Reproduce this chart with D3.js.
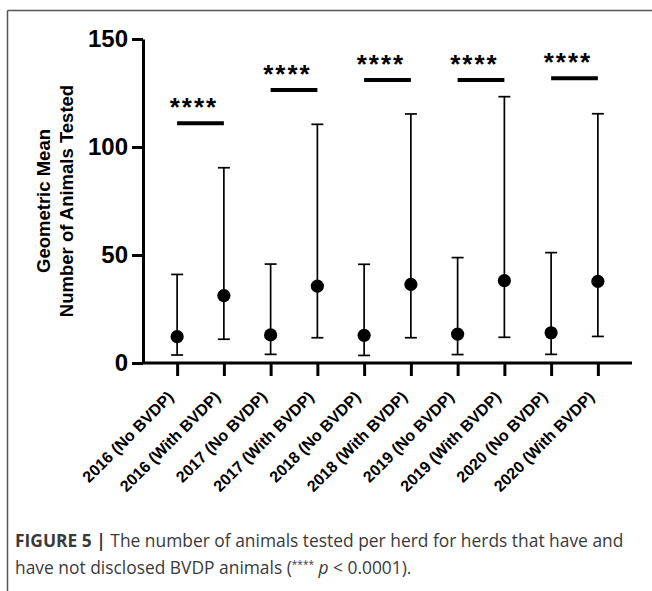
<!DOCTYPE html>
<html><head><meta charset="utf-8">
<script src="https://cdn.jsdelivr.net/npm/d3@7"></script>
<style>
html,body{margin:0;padding:0;background:#fff;}
svg{display:block;font-family:"Liberation Sans",Arial,Helvetica,sans-serif;}
</style></head>
<body>
<svg id="chart" width="652" height="591"></svg>
<script>
const categories = ["2016 (No BVDP)","2016 (With BVDP)","2017 (No BVDP)","2017 (With BVDP)","2018 (No BVDP)","2018 (With BVDP)","2019 (No BVDP)","2019 (With BVDP)","2020 (No BVDP)","2020 (With BVDP)"];
const geoMean = [12.2, 31.2, 13.0, 35.6, 12.8, 36.4, 13.4, 38.1, 14.0, 37.8];
const upper   = [41.0, 90.4, 45.8, 110.5, 45.7, 115.3, 48.8, 123.3, 51.1, 115.4];
const lower   = [3.7, 11.0, 4.0, 11.7, 3.5, 11.7, 3.9, 11.9, 4.0, 12.3];
const yTicks = [0, 50, 100, 150];
const sigPairs = [[0,1],[2,3],[4,5],[6,7],[8,9]];
const sigLevel = [111, 126.4, 131, 131, 131.8];
const sigLabel = "****";
const yTitle = ["Geometric Mean", "Number of Animals Tested"];

const svg = d3.select("#chart");

// frame lines (open box)
svg.append("line").attr("x1",7.5).attr("y1",10.5).attr("x2",652).attr("y2",10.5).attr("stroke","#555").attr("stroke-width",1.5);
svg.append("line").attr("x1",7.5).attr("y1",10.5).attr("x2",7.5).attr("y2",591).attr("stroke","#555").attr("stroke-width",1.5);

const x = d3.scalePoint().domain(categories).range([143, 632]).padding(0.73);
const y = d3.scaleLinear().domain([0,150]).range([363, 39]);

// y axis
const gy = svg.append("g").attr("transform","translate(143,0)")
  .call(d3.axisLeft(y).tickValues(yTicks).tickSize(11).tickPadding(4).tickSizeOuter(0));
gy.select(".domain").attr("stroke","#000").attr("stroke-width",3);
gy.selectAll(".tick line").attr("stroke","#000").attr("stroke-width",3);
gy.selectAll(".tick text").attr("font-size",24).attr("font-weight","bold").attr("fill","#000")
  .attr("font-family","'Liberation Sans',Arial,sans-serif");

// x axis
const gx = svg.append("g").attr("transform","translate(0,363)")
  .call(d3.axisBottom(x).tickSize(13).tickSizeOuter(0));
gx.select(".domain").attr("stroke","#000").attr("stroke-width",3).attr("d","M143,0H632");
gx.selectAll(".tick line").attr("stroke","#000").attr("stroke-width",3);
gx.selectAll(".tick text")
  .attr("font-size",16).attr("font-weight","bold").attr("fill","#000")
  .attr("font-family","'Liberation Sans',Arial,sans-serif")
  .attr("text-anchor","end")
  .attr("y",0).attr("dy","0.35em")
  .attr("transform","translate(-7,31) rotate(-45)");

// y title
const yt = svg.append("text")
  .attr("transform",`translate(0,${(y(0)+y(150))/2}) rotate(-90)`)
  .attr("text-anchor","middle").attr("font-size",18.5).attr("font-weight","bold").attr("fill","#000");
yt.append("tspan").attr("x",0).attr("y",50).text(yTitle[0]);
yt.append("tspan").attr("x",0).attr("y",73).text(yTitle[1]);

// error bars
const capW = 6;
const eb = svg.append("g").attr("stroke","#000").attr("stroke-width",1.7);
categories.forEach((c,i)=>{
  const cx = x(c);
  eb.append("line").attr("x1",cx).attr("x2",cx).attr("y1",y(lower[i])).attr("y2",y(upper[i]));
  eb.append("line").attr("x1",cx-capW).attr("x2",cx+capW).attr("y1",y(upper[i])).attr("y2",y(upper[i]));
  eb.append("line").attr("x1",cx-capW).attr("x2",cx+capW).attr("y1",y(lower[i])).attr("y2",y(lower[i]));
});
svg.append("g").selectAll("circle").data(categories).join("circle")
  .attr("cx",d=>x(d)).attr("cy",(d,i)=>y(geoMean[i])).attr("r",6.6).attr("fill","#000");

// significance
sigPairs.forEach((p,k)=>{
  const x1 = x(categories[p[0]]), x2 = x(categories[p[1]]);
  svg.append("line").attr("x1",x1).attr("x2",x2).attr("y1",y(sigLevel[k])).attr("y2",y(sigLevel[k]))
    .attr("stroke","#000").attr("stroke-width",4);
  svg.append("text").attr("x",(x1+x2)/2 - 6.5).attr("y",y(sigLevel[k]) - 7)
    .attr("text-anchor","middle").attr("font-size",26).attr("font-weight","bold")
    .attr("letter-spacing",2).attr("fill","#000").text(sigLabel);
});

// caption
const capFont = "'Open Sans','Liberation Sans',Arial,sans-serif";
const cap = svg.append("text").attr("x",15).attr("y",547).attr("font-size",17.4).attr("fill","#3a3a3a").attr("font-family",capFont);
cap.append("tspan").attr("font-weight","bold").text("FIGURE 5 | ");
cap.append("tspan").text("The number of animals tested per herd for herds that have and");
const cap2 = svg.append("text").attr("x",15).attr("y",574).attr("font-size",17.4).attr("fill","#3a3a3a").attr("font-family",capFont);
cap2.append("tspan").text("have not disclosed BVDP animals (");
cap2.append("tspan").attr("font-size",10).attr("dy",-6).text("****");
cap2.append("tspan").attr("dy",6).text(" ");
cap2.append("tspan").attr("font-style","italic").text("p");
cap2.append("tspan").text(" < 0.0001).");
</script>
</body></html>
